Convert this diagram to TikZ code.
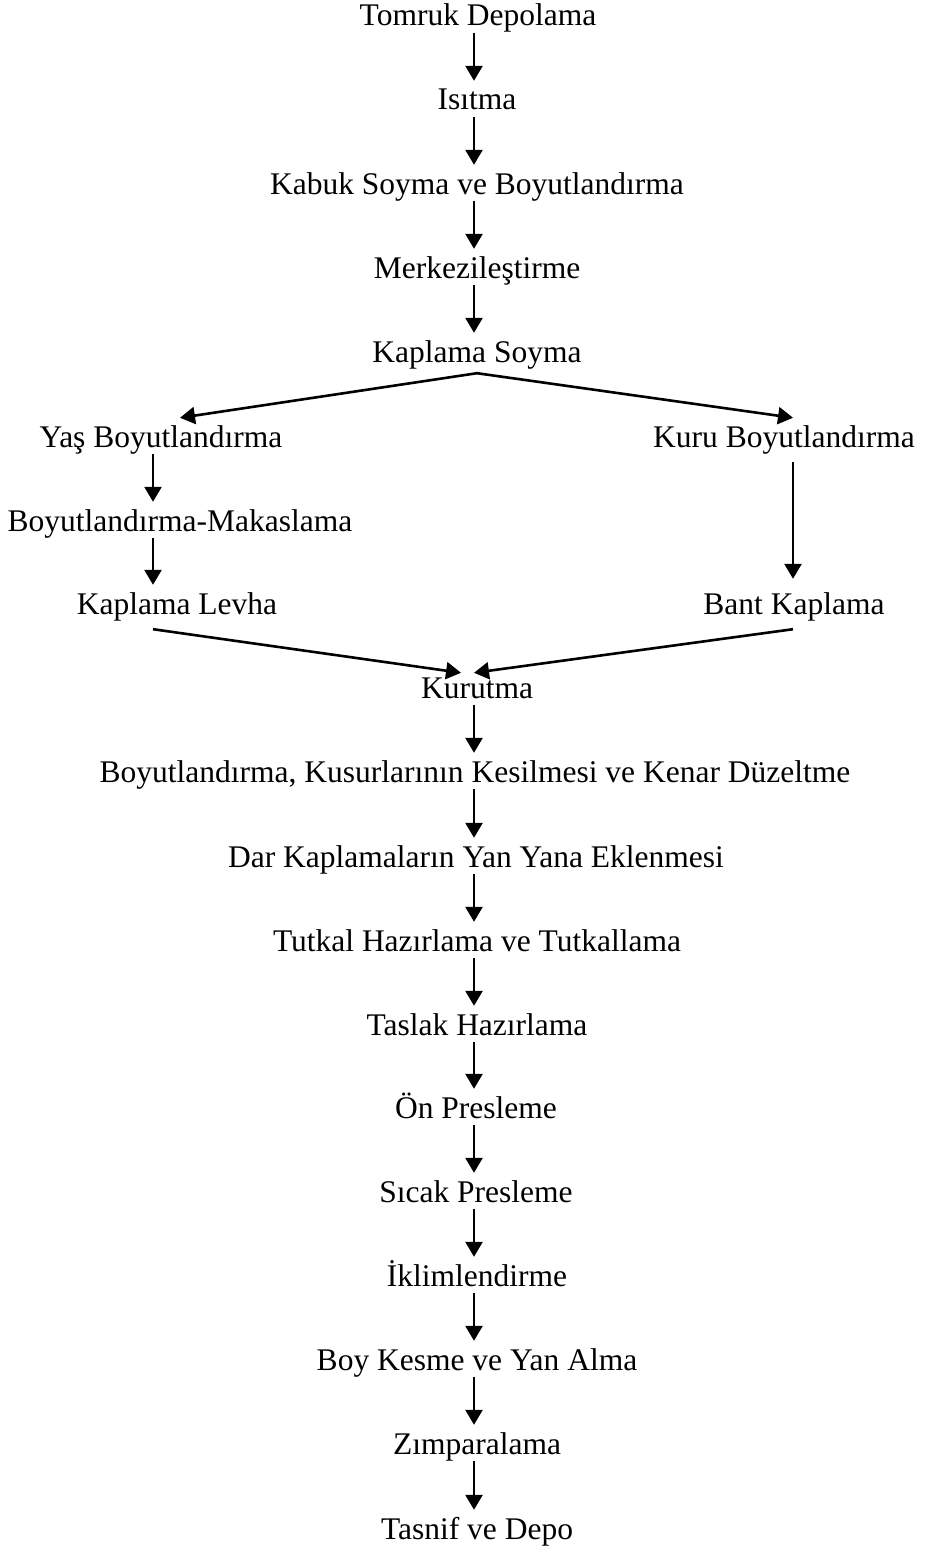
\documentclass[tikz,border=0pt]{standalone}
\usepackage{fontspec}
\setmainfont{Liberation Serif}
\usetikzlibrary{arrows.meta}
\tikzset{
  stage/.style={%
    anchor=base,
    inner xsep=0pt,
    inner ysep=7pt,
    text height=22pt,
    text depth=0pt,
    font=\fontsize{31.5}{36}\selectfont,
  },
  flow/.style={%
    line width=2.6pt,
    -{Triangle[width=17pt,length=15pt]},
  }
}
\begin{document}
\begin{tikzpicture}[x=1pt,y=-1pt]
  \useasboundingbox (0,0) rectangle (925,1552);
  \coordinate (mcol) at (474,0);
  \coordinate (lcol) at (153,0);
  \coordinate (rcol) at (793,0);
  % main chain, top
  \node (tomruk) [stage] at (478,26) {Tomruk Depolama};
  \node (isitma) [stage] at (477,110) {Isıtma};
  \node (kabuk) [stage] at (477,194) {Kabuk Soyma ve Boyutlandırma};
  \node (merkez) [stage] at (477,278) {Merkezileştirme};
  \node (ksoyma) [stage] at (477,362) {Kaplama Soyma};
  % two branches
  \node (yas) [stage] at (161,447) {Yaş Boyutlandırma};
  \node (makas) [stage] at (180,531) {Boyutlandırma-Makaslama};
  \node (levha) [stage] at (177,614) {Kaplama Levha};
  \node (kuru) [stage] at (784,447) {Kuru Boyutlandırma};
  \node (bant) [stage] at (794,614) {Bant Kaplama};
  % main chain, bottom
  \node (kurutma) [stage] at (477,698) {Kurutma};
  \node (kusur) [stage] at (475,782) {Boyutlandırma, Kusurlarının Kesilmesi ve Kenar Düzeltme};
  \node (dar) [stage] at (476,867) {Dar Kaplamaların Yan Yana Eklenmesi};
  \node (tutkal) [stage] at (477,951) {Tutkal Hazırlama ve Tutkallama};
  \node (taslak) [stage] at (477,1035) {Taslak Hazırlama};
  \node (onpres) [stage] at (476,1118) {Ön Presleme};
  \node (sicak) [stage] at (476,1202) {Sıcak Presleme};
  \node (iklim) [stage] at (477,1286) {İklimlendirme};
  \node (boy) [stage] at (477,1370) {Boy Kesme ve Yan Alma};
  \node (zimpara) [stage] at (477,1454) {Zımparalama};
  \node (tasnif) [stage] at (477,1539) {Tasnif ve Depo};

  \foreach \a/\b in {tomruk/isitma,isitma/kabuk,kabuk/merkez,merkez/ksoyma,
      kurutma/kusur,kusur/dar,dar/tutkal,tutkal/taslak,taslak/onpres,
      onpres/sicak,sicak/iklim,iklim/boy,boy/zimpara,zimpara/tasnif}
    \draw [flow] (\a.south -| mcol) -- (\b.north -| mcol);

  \draw [flow] ([yshift=-4pt]ksoyma.south) -- ([xshift=19pt]yas.north);
  \draw [flow] ([yshift=-4pt]ksoyma.south) -- (kuru.north -| rcol);
  \draw [flow] (yas.south -| lcol) -- (makas.north -| lcol);
  \draw [flow] (makas.south -| lcol) -- (levha.north -| lcol);
  \draw [flow,shorten <=8pt,shorten >=6pt] (kuru.south -| rcol) -- (bant.north -| rcol);
  \draw [flow] ([yshift=-8pt]levha.south -| lcol) -- ([xshift=-16pt,yshift=-4pt]kurutma.north);
  \draw [flow] ([yshift=-8pt]bant.south -| rcol) -- ([xshift=-3pt,yshift=-4pt]kurutma.north);
\end{tikzpicture}
\end{document}
